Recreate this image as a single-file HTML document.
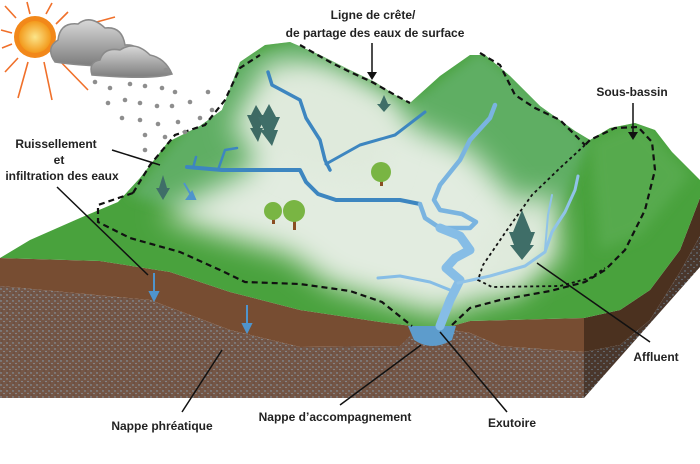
<!DOCTYPE html>
<html><head><meta charset="utf-8"><style>
html,body{margin:0;padding:0;background:#fff;}
svg{display:block;}
text{font-family:"Liberation Sans",sans-serif;font-weight:bold;font-size:12px;fill:#222;}
</style></head><body>
<svg width="700" height="464" viewBox="0 0 700 464" xmlns="http://www.w3.org/2000/svg">
<defs>
<pattern id="grav" width="6" height="6" patternUnits="userSpaceOnUse">
<rect width="6" height="6" fill="#745646"/>
<circle cx="1" cy="1" r="0.7" fill="#86a6bc"/>
<circle cx="4" cy="3.5" r="0.6" fill="#93adc0"/>
<circle cx="2" cy="5" r="0.6" fill="#5a4234"/>
</pattern>
<pattern id="grav2" width="6" height="6" patternUnits="userSpaceOnUse">
<rect width="6" height="6" fill="#4a372c"/>
<circle cx="1" cy="1" r="0.7" fill="#6f8a9e"/>
<circle cx="4" cy="3.5" r="0.6" fill="#7990a3"/>
</pattern>
<filter id="bl" x="-30%" y="-30%" width="160%" height="160%"><feGaussianBlur stdDeviation="14"/></filter>
<filter id="bl2" x="-30%" y="-30%" width="160%" height="160%"><feGaussianBlur stdDeviation="6"/></filter>
<radialGradient id="sun"><stop offset="0" stop-color="#fbe58a"/><stop offset="1" stop-color="#f39a1c"/></radialGradient>
<linearGradient id="cl" x1="0" y1="0" x2="0" y2="1"><stop offset="0" stop-color="#d8d8d8"/><stop offset="1" stop-color="#7d7d7d"/></linearGradient>
<clipPath id="top"><path d="M0,258 L30,240 L80,218 L118,202 L140,178 L168,142 L200,126 L222,110 L240,62 L265,45 L290,42 L320,55 L350,70 L375,82 L395,95 L410,103 L440,76 L470,55 L485,55 L510,76 L540,106 L575,131 L590,140 L610,128 L635,123 L655,130 L672,152 L700,180 L700,198 L680,250 L650,290 L620,310 L584,318 L470,321 L452,326 L412,326 L380,322 L300,310 L230,292 L170,272 L100,261 Z"/></clipPath>
</defs>

<path d="M0,286 L150,300 L230,330 L300,347 L400,346 L412,330 L452,330 L470,333 L500,346 L584,352 L584,398 L0,398 Z" fill="url(#grav)"/>
<path d="M584,352 L620,345 L650,320 L680,272 L700,236 L700,267 L584,398 Z" fill="url(#grav2)"/>
<path d="M0,258 L100,261 L170,272 L230,292 L300,310 L380,322 L412,326 L412,334 L400,346 L300,347 L230,330 L150,300 L0,286 Z" fill="#774d32"/>
<path d="M452,326 L470,321 L584,318 L584,352 L500,346 L470,333 L452,330 Z" fill="#774d32"/>
<path d="M584,318 L620,310 L650,290 L680,250 L700,198 L700,236 L680,272 L650,320 L620,345 L584,352 Z" fill="#4b311f"/>
<path d="M408,326 L456,326 L452,340 Q432,352 414,340 Z" fill="#5d9ccc"/>

<g clip-path="url(#top)">
<rect x="0" y="0" width="700" height="340" fill="#49a23d"/>
<path d="M130,195 L240,60 L300,40 L410,103 L480,50 L590,140 L540,260 L420,200 L300,190 L200,215 Z" fill="#5fae63" filter="url(#bl2)"/>
<path d="M590,140 L640,120 L690,175 L640,235 L600,250 Z" fill="#56aa4d" filter="url(#bl2)"/>
<path d="M160,215 L250,170 L262,110 L300,70 L370,95 L410,125 L470,150 L520,205 L540,250 L520,290 L470,305 L440,315 L400,305 L330,285 L290,255 L210,232 Z" fill="#e2ece0" filter="url(#bl)"/>
<path d="M230,130 L270,60 L330,70 L400,110 L380,180 L300,170 Z" fill="#dfeadc" filter="url(#bl)"/>
<path d="M480,250 L520,200 L555,195 L560,260 L500,290 Z" fill="#dfeadc" filter="url(#bl)"/>
</g>

<g fill="none" stroke-linecap="round" stroke-linejoin="round">
<path d="M187,167 L222,170 L300,170 L306,182 L318,194 L336,200 L400,200 L420,204" stroke="#3d86c0" stroke-width="4"/>
<path d="M193,168 L196,157 M218,170 L225,150 L237,148" stroke="#3d86c0" stroke-width="2.5"/>
<path d="M268,72 L272,85 L300,100 L306,118 L320,140 L325,160 L330,170" stroke="#3d86c0" stroke-width="3.5"/>
<path d="M326,164 L360,145 L395,135 L425,112" stroke="#3d86c0" stroke-width="3"/>
<path d="M420,204 L425,218 L440,228 L470,228 L476,222 L462,214 L440,210 L434,200 L440,185 L460,160 L470,140 L490,118 L495,105" stroke="#7ab4e0" stroke-width="4.5"/>
<path d="M440,228 L460,236 L470,250 L455,258 L446,268 L460,280 L450,300 L440,326" stroke="#86bde6" stroke-width="9"/>
<path d="M450,290 L430,282 L400,276 L378,278" stroke="#86bde6" stroke-width="3"/>
<path d="M458,283 L490,276 L525,266 L545,252 L552,232 L565,212 L575,190 L578,176" stroke="#90c3e8" stroke-width="3"/>
<path d="M545,250 L548,215 L552,195" stroke="#90c3e8" stroke-width="2"/>
</g>
<g stroke="#4f94cc" stroke-width="2" fill="#4f94cc">
<path d="M184,183 L191,195"/><path d="M187,199 L195,199 L192,192 Z"/>
<path d="M154,273 L154,294"/><path d="M150,292 L158,292 L154,300 Z"/>
<path d="M247,305 L247,326"/><path d="M243,324 L251,324 L247,332 Z"/>
</g>

<g>
<path d="M258,142 L250,128 L253,128 L247,115 L251,115 L256,105 L262,115 L266,115 L260,128 L263,128 Z" fill="#3d6a63"/>
<path d="M272,146 L260,130 L264,130 L258,117 L262,117 L269,104 L276,117 L280,117 L274,130 L278,130 Z" fill="#3f6e68"/>
<path d="M384,112 L377,104 L380,104 L384,95 L388,104 L391,104 Z" fill="#3f6e68"/>
<path d="M163,200 L156,188 L159,188 L163,175 L167,188 L170,188 Z" fill="#3f6e68"/>
<path d="M522,260 L510,245 L514,245 L509,232 L513,232 L522,210 L531,232 L535,232 L530,245 L534,245 Z" fill="#3f6e68"/>
<rect x="380" y="174" width="3" height="12" fill="#8a4e22"/><circle cx="381" cy="172" r="10" fill="#79b543"/>
<rect x="272" y="212" width="3" height="12" fill="#8a4e22"/><circle cx="273" cy="211" r="9" fill="#79b543"/>
<rect x="293" y="214" width="3" height="16" fill="#8a4e22"/><circle cx="294" cy="211" r="11" fill="#79b543"/>
</g>

<g fill="none" stroke="#111" stroke-width="2.2" stroke-dasharray="6,4">
<path d="M133,193 L150,165 L175,135 L205,125 L225,100 L240,68 L260,55"/>
<path d="M300,45 L330,62 L350,72 L372,82 L395,95 L410,103"/>
<path d="M480,53 L500,65 L515,95 L535,108 L560,120 L585,145"/>
<path d="M133,193 L98,205 L98,222 L130,238 L180,252 L220,270 L245,282 L300,284 L350,291 L382,302 L412,326"/>
<path d="M452,325 L470,308 L500,300 L550,291 L585,282 L605,270 L625,250 L645,210 L655,170 L652,142 L638,127 L615,128 L590,140 L585,145"/>
</g>
<path d="M585,145 L560,168 L532,195 L507,230 L483,265 L478,280 L492,287 L560,286 L590,278 L605,268" fill="none" stroke="#111" stroke-width="1.8" stroke-dasharray="3,3"/>

<!-- sun -->
<g stroke="#f0702a" stroke-width="1.6">
<path d="M16,18 L5,6 M30,14 L27,2 M46,14 L52,3 M56,24 L68,12 M12,33 L1,30 M12,44 L2,48 M18,58 L5,72 M28,62 L18,98 M44,62 L52,100 M55,56 L88,90 M60,32 L115,17"/>
</g>
<circle cx="35" cy="37" r="21" fill="#f2881a"/>
<circle cx="35" cy="37" r="16" fill="url(#sun)"/>
<path d="M55,62 Q45,48 58,40 Q60,22 78,24 Q90,14 105,28 Q122,26 125,45 Q138,44 140,55 Q125,72 55,62 Z" fill="url(#cl)" stroke="#8a8a8a" stroke-width="1.5"/>
<path d="M92,75 Q88,62 100,60 Q104,47 120,50 Q135,40 150,55 Q165,58 172,74 Q150,80 92,75 Z" fill="url(#cl)" stroke="#8a8a8a" stroke-width="1.5"/>
<g fill="#8e8e8e">
<circle cx="95" cy="82" r="2.3"/><circle cx="110" cy="88" r="2.3"/><circle cx="130" cy="84" r="2.3"/><circle cx="145" cy="86" r="2.3"/><circle cx="162" cy="88" r="2.3"/><circle cx="175" cy="92" r="2.3"/><circle cx="166" cy="70" r="2.3"/>
<circle cx="108" cy="103" r="2.3"/><circle cx="125" cy="100" r="2.3"/><circle cx="140" cy="103" r="2.3"/><circle cx="157" cy="106" r="2.3"/><circle cx="172" cy="106" r="2.3"/><circle cx="190" cy="102" r="2.3"/><circle cx="208" cy="92" r="2.3"/>
<circle cx="122" cy="118" r="2.3"/><circle cx="140" cy="120" r="2.3"/><circle cx="158" cy="124" r="2.3"/><circle cx="178" cy="122" r="2.3"/><circle cx="200" cy="118" r="2.3"/><circle cx="212" cy="110" r="2.3"/>
<circle cx="145" cy="135" r="2.3"/><circle cx="165" cy="137" r="2.3"/><circle cx="185" cy="132" r="2.3"/><circle cx="145" cy="150" r="2.3"/>
</g>

<g stroke="#111" stroke-width="1.5" fill="none">
<path d="M372,43 L372,78"/><path d="M633,103 L633,138"/>
<path d="M112,150 L160,165"/><path d="M57,187 L148,275"/>
<path d="M182,412 L222,350"/><path d="M340,405 L421,345"/>
<path d="M507,412 L440,332"/><path d="M650,342 L537,263"/>
</g>
<path d="M367,72 L377,72 L372,80 Z" fill="#111"/>
<path d="M628,132 L638,132 L633,140 Z" fill="#111"/>

<text x="373" y="19" text-anchor="middle">Ligne de crête/</text>
<text x="375" y="37" text-anchor="middle">de partage des eaux de surface</text>
<text x="632" y="96" text-anchor="middle">Sous-bassin</text>
<text x="56" y="148" text-anchor="middle">Ruissellement</text>
<text x="59" y="164" text-anchor="middle">et</text>
<text x="62" y="180" text-anchor="middle">infiltration des eaux</text>
<text x="162" y="430" text-anchor="middle">Nappe phréatique</text>
<text x="335" y="421" text-anchor="middle">Nappe d’accompagnement</text>
<text x="512" y="427" text-anchor="middle">Exutoire</text>
<text x="656" y="361" text-anchor="middle">Affluent</text>
</svg>
</body></html>
